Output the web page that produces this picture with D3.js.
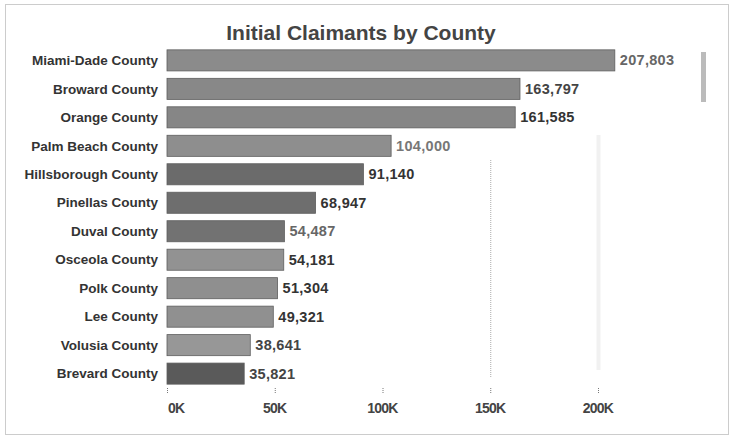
<!DOCTYPE html>
<html>
<head>
<meta charset="utf-8">
<script src="https://cdn.jsdelivr.net/npm/d3@7"></script>
<style>
  body { margin: 0; background: #fff; }
  text { font-family: "Liberation Sans", Arial, sans-serif; }
</style>
</head>
<body>
<div id="chart-area"></div>
<script>
var counties = ['Miami-Dade County', 'Broward County', 'Orange County', 'Palm Beach County',
  'Hillsborough County', 'Pinellas County', 'Duval County', 'Osceola County',
  'Polk County', 'Lee County', 'Volusia County', 'Brevard County'];
var claimants = [207803, 163797, 161585, 104000, 91140, 68947, 54487, 54181, 51304, 49321, 38641, 35821];
var barColors = ['#8b8b8b', '#888888', '#868686', '#8e8e8e', '#6b6b6b', '#6e6e6e', '#727272',
  '#929292', '#8f8f8f', '#909090', '#979797', '#5a5a5a'];
var labelColors = ['#666', '#444', '#333', '#777', '#333', '#333', '#666', '#333', '#333', '#333', '#444', '#444'];
var xTicks = [0, 50000, 100000, 150000, 200000];

const WIDTH = 733
const HEIGHT = 437

const svg = d3.select("#chart-area").append("svg")
      .attr("width", WIDTH)
      .attr("height", HEIGHT)

// frame
svg.append("rect")
      .attr("x", 5.5).attr("y", 4.5)
      .attr("width", 723).attr("height", 430)
      .attr("fill", "none")
      .attr("stroke", "#999")
      .attr("stroke-dasharray", "1,1")

// title
svg.append("text")
      .attr("x", 361)
      .attr("y", 40)
      .attr("text-anchor", "middle")
      .attr("font-size", "21px")
      .attr("font-weight", "bold")
      .attr("fill", "#444")
      .text("Initial Claimants by County")

const data = counties.map((c, i) => ({ county: c, value: claimants[i], i: i }))

const x = d3.scaleLinear()
      .domain([0, 200000])
      .range([167, 598])

const y = d3.scaleBand()
      .domain(counties)
      .range([47, 387])
      .paddingInner(0.26)
      .paddingOuter(0.1)

// gridlines
svg.selectAll("line.grid")
      .data([150000, 200000])
      .enter().append("line")
      .attr("class", "grid")
      .attr("x1", d => x(d) + 0.5).attr("x2", d => x(d) + 0.5)
      .attr("y1", (d, i) => i === 0 ? 160 : 135)
      .attr("y2", (d, i) => i === 0 ? 378 : 370)
      .attr("stroke", (d, i) => i === 0 ? "#aaa" : "#f1f1f1")
      .attr("stroke-width", (d, i) => i === 0 ? 1 : 4)
      .attr("stroke-dasharray", (d, i) => i === 0 ? "1,1" : null)

// scrollbar-ish mark on the right
svg.append("rect")
      .attr("x", 701).attr("y", 52)
      .attr("width", 5).attr("height", 50)
      .attr("fill", "#bbb")

// bars
svg.selectAll("rect.bar")
      .data(data)
      .enter().append("rect")
      .attr("class", "bar")
      .attr("x", x(0))
      .attr("y", d => y(d.county))
      .attr("width", d => x(d.value) - x(0))
      .attr("height", y.bandwidth())
      .attr("fill", d => barColors[d.i])
      .attr("stroke", "#5e5e5e")
      .attr("stroke-width", 0.8)

// county labels
svg.selectAll("text.county")
      .data(data)
      .enter().append("text")
      .attr("class", "county")
      .attr("x", 158)
      .attr("y", d => y(d.county) + y.bandwidth() / 2)
      .attr("dy", "0.35em")
      .attr("text-anchor", "end")
      .attr("font-size", "13.5px")
      .attr("font-weight", "bold")
      .attr("fill", "#333")
      .text(d => d.county)

// value labels
svg.selectAll("text.value")
      .data(data)
      .enter().append("text")
      .attr("class", "value")
      .attr("x", d => x(d.value) + 5)
      .attr("y", d => y(d.county) + y.bandwidth() / 2)
      .attr("dy", "0.35em")
      .attr("font-size", "14.5px")
      .attr("letter-spacing", "0.3px")
      .attr("font-weight", "bold")
      .attr("fill", d => labelColors[d.i])
      .text(d => d3.format(",")(d.value))

// x axis
const xAxis = svg.append("g")
      .attr("transform", "translate(0, 388)")

xAxis.selectAll("line")
      .data(xTicks)
      .enter().append("line")
      .attr("x1", d => x(d) + 0.5).attr("x2", d => x(d) + 0.5)
      .attr("y1", 0).attr("y2", 6)
      .attr("stroke", "#777")
      .attr("stroke-dasharray", "1,1")

xAxis.selectAll("text")
      .data(xTicks)
      .enter().append("text")
      .attr("x", (d, i) => i === 0 ? x(d) + 1 : x(d))
      .attr("y", 25)
      .attr("text-anchor", (d, i) => i === 0 ? "start" : "middle")
      .attr("font-size", "14px")
      .attr("letter-spacing", "-0.8px")
      .attr("font-weight", "bold")
      .attr("fill", "#444")
      .text(d => (d / 1000) + "K")
</script>
</body>
</html>
